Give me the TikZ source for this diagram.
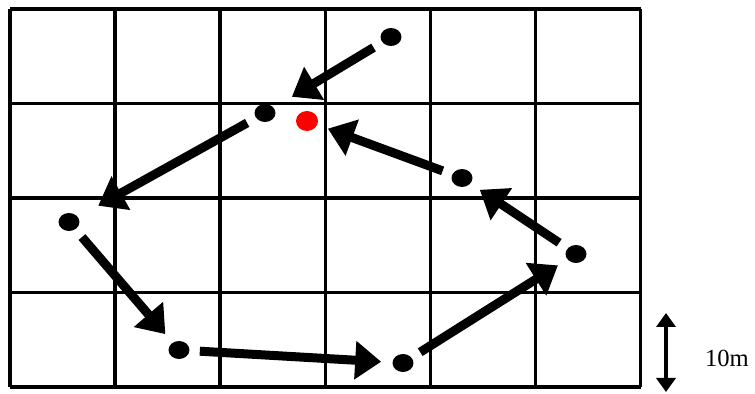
\documentclass[tikz,border=0pt]{standalone}
\usepackage{fontspec}
\setmainfont{Liberation Serif}
\usepackage{tikz}
\usetikzlibrary{shapes.geometric,arrows.meta,positioning}
\tikzset{
  gridline/.style={line width=0.07cm, draw=black},
  spot/.style={
    ellipse, fill=black, draw=none,
    minimum width=0.42cm, minimum height=0.36cm, inner sep=0pt
  },
  redspot/.style={spot, fill=red, minimum width=0.44cm, minimum height=0.4cm},
  move/.style={-{Triangle[length=0.52cm, width=0.74cm]}, line width=0.18cm,
    shorten <=0.2cm, shorten >=0.22cm},
  scalebar/.style={{Triangle[length=0.28cm, width=0.38cm]}-{Triangle[length=0.28cm, width=0.38cm]},
    line width=0.07cm},
  scalelabel/.style={font=\fontsize{14}{16}\selectfont, inner sep=0pt},
}
\begin{document}
\begin{tikzpicture}[x=0.02cm, y=-0.02cm]
  \useasboundingbox (0,0) rectangle (755,394);
  % grid of 6 x 4 cells
  \foreach \i in {0,...,6}
    \draw[gridline] ({10+\i*105.1},9) -- ({10+\i*105.1},387);
  \foreach \j in {0,...,4}
    \draw[gridline] (10,{9+\j*94.5}) -- (640.6,{9+\j*94.5});
  % positions
  \node (p1) [spot] at (391,37) {};
  \node (p2) [spot] at (265,113) {};
  \node (p0) [redspot] at (307,121) {};
  \node (p3) [spot] at (69,222) {};
  \node (p4) [spot] at (179,350) {};
  \node (p5) [spot] at (403,363) {};
  \node (p6) [spot] at (576,254) {};
  \node (p7) [spot] at (462,178) {};
  % movements
  \draw[move, shorten >=0.42cm] (p1) -- (p2);
  \draw[move, shorten >=0.46cm] (p2) -- (p3);
  \draw[move] (p3) -- (p4);
  \draw[move] (p4) -- (p5);
  \draw[move] (p5) -- (p6);
  \draw[move] (p6) -- (p7);
  \draw[move] (p7) -- (p0);
  % scale
  \coordinate (sctop) at (666,313);
  \coordinate (scbot) at (666,392);
  \draw[scalebar] (sctop) -- (scbot);
  \node (sclab) [scalelabel] at (727,358) {10m};
\end{tikzpicture}
\end{document}
